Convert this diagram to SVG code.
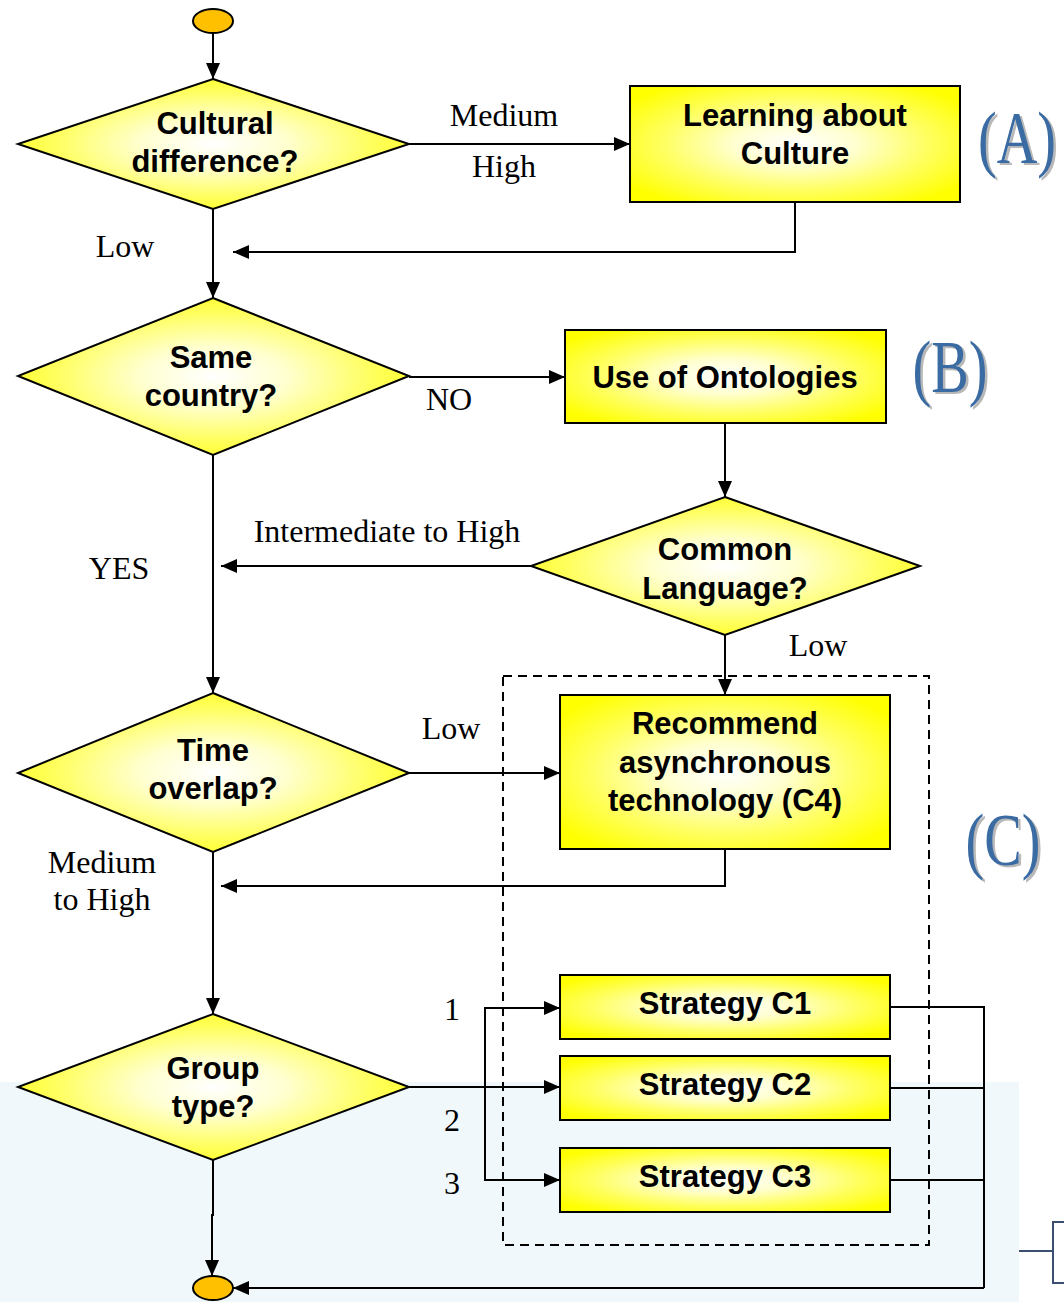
<svg xmlns="http://www.w3.org/2000/svg" width="1064" height="1302" viewBox="0 0 1064 1302">
  <defs>
    <radialGradient id="yellowGlow" cx="0.5" cy="0.5" r="0.62">
      <stop offset="0" stop-color="#ffffff"/>
      <stop offset="0.3" stop-color="#ffffd0"/>
      <stop offset="0.65" stop-color="#ffff60"/>
      <stop offset="1" stop-color="#ffff00"/>
    </radialGradient>
    <marker id="arrow" markerUnits="userSpaceOnUse" markerWidth="18" markerHeight="14" refX="16" refY="7" orient="auto">
      <path d="M0,0 L16,7 L0,14 z" fill="#000"/>
    </marker>
    <style>
      .shape { fill: url(#yellowGlow); stroke: #000; stroke-width: 2; }
      .terminal { fill: #ffc000; stroke: #000; stroke-width: 2; }
      .conn { fill: none; stroke: #000; stroke-width: 2; }
      .conn-arrow { fill: none; stroke: #000; stroke-width: 2; marker-end: url(#arrow); }
      .nt { font-family: "Liberation Sans", Arial, sans-serif; font-weight: bold; font-size: 31px; fill: #000; text-anchor: middle; }
      .lbl { font-family: "Liberation Serif", "Times New Roman", serif; font-size: 32px; fill: #000; text-anchor: middle; }
      .tag { font-family: "Liberation Serif", "Times New Roman", serif; font-size: 75px; text-anchor: middle; }
      .tag-shadow { fill: #b8b8b8; }
      .tag-face { fill: #3b6ba3; }
      .frame { fill: none; stroke: #000; stroke-width: 2; stroke-dasharray: 9 6; }
      .bracket { fill: none; stroke: #3d4f70; stroke-width: 2; }
    </style>
  </defs>

  <!-- backdrop panel and edge bracket -->
  <rect x="0" y="1082" width="1019" height="220" fill="#f0f8fb"/>
  <path class="bracket" d="M1019,1251 H1053 M1064,1222 H1053 V1283 H1064"/>

  <!-- dashed group around the strategy section -->
  <rect class="frame" x="503" y="676" width="426" height="569"/>

  <!-- section tags -->
  <g id="tag-a">
    <text class="tag tag-shadow" transform="translate(1019.5,164.5) scale(0.75,1)">(A)</text>
    <text class="tag tag-face" transform="translate(1017,163) scale(0.75,1)">(A)</text>
  </g>
  <g id="tag-b">
    <text class="tag tag-shadow" transform="translate(952.5,393.5) scale(0.75,1)">(B)</text>
    <text class="tag tag-face" transform="translate(950,392) scale(0.75,1)">(B)</text>
  </g>
  <g id="tag-c">
    <text class="tag tag-shadow" transform="translate(1005.5,866.5) scale(0.75,1)">(C)</text>
    <text class="tag tag-face" transform="translate(1003,865) scale(0.75,1)">(C)</text>
  </g>

  <!-- connectors -->
  <g id="connectors">
    <path class="conn-arrow" d="M213,33 V79"/>
    <path class="conn-arrow" d="M409,144 H630"/>
    <path class="conn-arrow" d="M795,202 V252 H233"/>
    <path class="conn-arrow" d="M213,209 V298"/>
    <path class="conn-arrow" d="M409,377 H565"/>
    <path class="conn-arrow" d="M725,423 V497"/>
    <path class="conn-arrow" d="M531,566 H221"/>
    <path class="conn-arrow" d="M213,455 V693"/>
    <path class="conn-arrow" d="M725,635 V695"/>
    <path class="conn-arrow" d="M409,773 H560"/>
    <path class="conn-arrow" d="M725,849 V886 H221"/>
    <path class="conn-arrow" d="M213,852 V1014"/>
    <path class="conn-arrow" d="M409,1087 H560"/>
    <path class="conn-arrow" d="M485,1087 V1008 H560"/>
    <path class="conn-arrow" d="M485,1087 V1180 H560"/>
    <path class="conn-arrow" d="M213,1160 V1215 H212 V1276"/>
    <path class="conn" d="M890,1007 H984 V1288"/>
    <path class="conn" d="M890,1088 H984"/>
    <path class="conn" d="M890,1180 H984"/>
    <path class="conn-arrow" d="M984,1288 H233"/>
  </g>

  <!-- connector labels -->
  <g id="connector-labels">
    <text class="lbl" x="504" y="126">Medium</text>
    <text class="lbl" x="504" y="177">High</text>
    <text class="lbl" x="125" y="257">Low</text>
    <text class="lbl" x="449" y="410">NO</text>
    <text class="lbl" x="387" y="542">Intermediate to High</text>
    <text class="lbl" x="119" y="579">YES</text>
    <text class="lbl" x="818" y="656">Low</text>
    <text class="lbl" x="451" y="739">Low</text>
    <text class="lbl" x="102" y="873">Medium</text>
    <text class="lbl" x="102" y="910">to High</text>
    <text class="lbl" x="452" y="1020">1</text>
    <text class="lbl" x="452" y="1131">2</text>
    <text class="lbl" x="452" y="1194">3</text>
  </g>

  <!-- nodes -->
  <g id="start">
    <ellipse class="terminal" cx="213" cy="21" rx="20" ry="12"/>
  </g>

  <g id="cultural-difference">
    <polygon class="shape" points="213,79 409,144 213,209 18,144"/>
    <text class="nt" x="215" y="134">Cultural</text>
    <text class="nt" x="215" y="172">difference?</text>
  </g>

  <g id="learning-about-culture">
    <rect class="shape" x="630" y="86" width="330" height="116"/>
    <text class="nt" x="795" y="126">Learning about</text>
    <text class="nt" x="795" y="164">Culture</text>
  </g>

  <g id="same-country">
    <polygon class="shape" points="213,298 409,376 213,455 18,376"/>
    <text class="nt" x="211" y="368">Same</text>
    <text class="nt" x="211" y="406">country?</text>
  </g>

  <g id="use-of-ontologies">
    <rect class="shape" x="565" y="330" width="321" height="93"/>
    <text class="nt" x="725" y="388">Use of Ontologies</text>
  </g>

  <g id="common-language">
    <polygon class="shape" points="725,497 920,566 725,635 531,566"/>
    <text class="nt" x="725" y="560">Common</text>
    <text class="nt" x="725" y="599">Language?</text>
  </g>

  <g id="time-overlap">
    <polygon class="shape" points="213,693 409,773 213,852 18,773"/>
    <text class="nt" x="213" y="761">Time</text>
    <text class="nt" x="213" y="799">overlap?</text>
  </g>

  <g id="recommend-async">
    <rect class="shape" x="560" y="695" width="330" height="154"/>
    <text class="nt" x="725" y="734">Recommend</text>
    <text class="nt" x="725" y="773">asynchronous</text>
    <text class="nt" x="725" y="811">technology (C4)</text>
  </g>

  <g id="group-type">
    <polygon class="shape" points="213,1014 409,1087 213,1160 18,1087"/>
    <text class="nt" x="213" y="1079">Group</text>
    <text class="nt" x="213" y="1117">type?</text>
  </g>

  <g id="strategy-c1">
    <rect class="shape" x="560" y="975" width="330" height="64"/>
    <text class="nt" x="725" y="1014">Strategy C1</text>
  </g>

  <g id="strategy-c2">
    <rect class="shape" x="560" y="1056" width="330" height="64"/>
    <text class="nt" x="725" y="1095">Strategy C2</text>
  </g>

  <g id="strategy-c3">
    <rect class="shape" x="560" y="1148" width="330" height="64"/>
    <text class="nt" x="725" y="1187">Strategy C3</text>
  </g>

  <g id="end">
    <ellipse class="terminal" cx="213" cy="1288" rx="20" ry="12"/>
  </g>
</svg>
